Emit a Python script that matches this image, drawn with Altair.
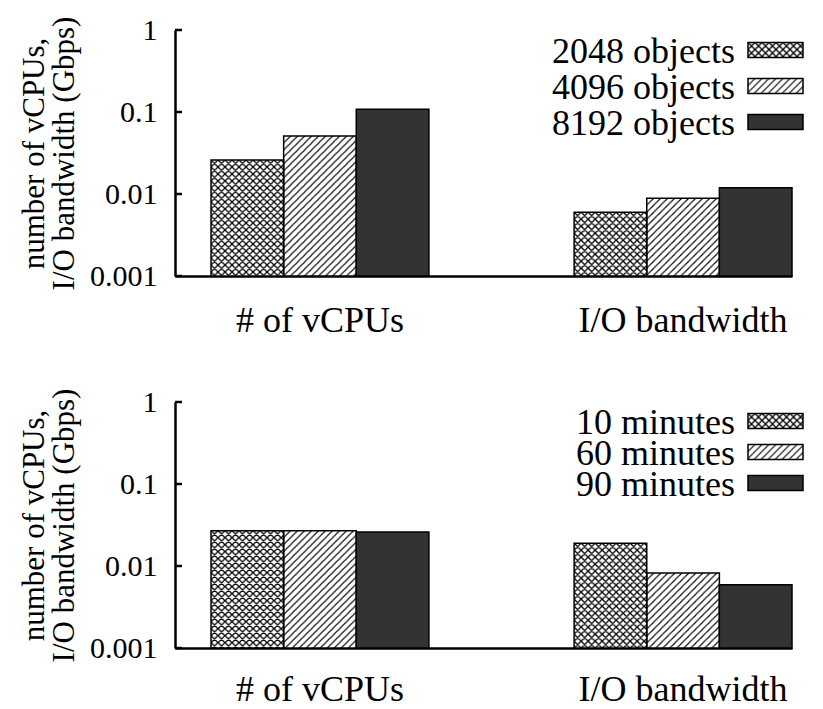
import urllib.parse

import altair as alt
import pandas as pd

# ---- values -------------------------------------------------------------
metrics = ["# of vCPUs", "I/O bandwidth"]

top_series = ["2048 objects", "4096 objects", "8192 objects"]
top_vcpu = [0.026, 0.051, 0.108]
top_io = [0.0060, 0.0089, 0.0119]

bottom_series = ["10 minutes", "60 minutes", "90 minutes"]
bottom_vcpu = [0.027, 0.027, 0.026]
bottom_io = [0.019, 0.0082, 0.0059]

y_ticks = [0.001, 0.01, 0.1, 1]
y_title = ["number of vCPUs,", "I/O bandwidth (Gbps)"]

# ---- styling ------------------------------------------------------------
FONT = "Liberation Serif"
DARK = "#333333"
CLEAR = "rgba(0,0,0,0)"
W, H = 617, 246


def pattern_url(path, lw):
    """A tiling hatch pattern as an SVG data URL that fills any box 1:1."""
    svg = (
        "<svg xmlns='http://www.w3.org/2000/svg' width='100%' height='100%'>"
        "<defs><pattern id='p' width='7' height='7' patternUnits='userSpaceOnUse'>"
        "<rect width='7' height='7' fill='white'/>"
        f"<path d='{path}' stroke='black' stroke-width='{lw}' fill='none'/>"
        "</pattern></defs>"
        "<rect width='100%' height='100%' fill='url(#p)'/></svg>"
    )
    return "data:image/svg+xml;charset=utf-8," + urllib.parse.quote(svg)


SLASH = "M0,7L7,0M-1,1L1,-1M6,8L8,6"
BACKSLASH = "M0,0L7,7M-1,6L1,8M6,-1L8,1"
FILL_URL = {0: pattern_url(SLASH + BACKSLASH, 1.3), 1: pattern_url(SLASH, 1.1), 2: ""}

# one band slot per bar, with two empty slots separating the groups
SLOTS = [f"{metrics[0]}|{k}" for k in range(3)] + ["|gap a", "|gap b"] + [
    f"{metrics[1]}|{k}" for k in range(3)
]

y_axis = alt.Axis(
    values=y_ticks, format="~g", ticks=False, labelPadding=18,
    labelFontSize=30, labelFont=FONT, labelColor="black",
    labelFlush=False, labelOverlap=False,
    title=y_title, titleFont=FONT, titleFontSize=31,
    titleFontWeight="normal", titleColor="black", titlePadding=9,
    titleLineHeight=30, domainColor="black", domainWidth=2.5, grid=False,
)
y_scale = alt.Scale(type="log", domain=[0.001, 1])


def x_axis(label_pad):
    return alt.Axis(
        title=None, labelAngle=0, ticks=False, labelPadding=label_pad,
        labelExpr="split(datum.value, '|')[1] == '1' ? split(datum.value, '|')[0] : ''",
        labelFontSize=36, labelFont=FONT, labelColor="black", labelLimit=500,
        labelOverlap=False, labelBound=False,
        domainColor="black", domainWidth=2.5, grid=False,
    )


def panel(series, vcpu, io, leg_y0, leg_dy, label_pad):
    recs = []
    for k, s in enumerate(series):
        recs.append({"metric": metrics[0], "series": s, "value": vcpu[k], "k": k})
        recs.append({"metric": metrics[1], "series": s, "value": io[k], "k": k})
    df = pd.DataFrame(recs)
    df["slot"] = df["metric"] + "|" + df["k"].astype(str)
    df["url"] = df["k"].map(FILL_URL)

    base = alt.Chart(df).encode(
        x=alt.X("slot:N",
                scale=alt.Scale(domain=SLOTS, paddingInner=0,
                                paddingOuter=0.248, align=1),
                axis=x_axis(label_pad)),
        y=alt.Y("value:Q", scale=y_scale, axis=y_axis),
        y2=alt.datum(0.001),
    )

    hatch = base.mark_image(aspect=False).encode(url="url:N").transform_filter(
        "datum.k < 2"
    )
    bars = base.mark_bar(stroke="black", strokeWidth=1.5).encode(
        fill=alt.Fill("series:N",
                      scale=alt.Scale(domain=series, range=[CLEAR, CLEAR, DARK]),
                      legend=None)
    )

    # inward-pointing ticks on the value axis
    ticks = alt.Chart(pd.DataFrame({"v": y_ticks})).mark_rule(
        color="black", strokeWidth=2.5
    ).encode(
        y=alt.Y("v:Q", scale=y_scale, axis=y_axis),
        x=alt.value(0),
        x2=alt.value(7),
    )

    # key in the upper right: label, then swatch
    leg = pd.DataFrame({"series": series, "k": [0, 1, 2]})
    leg["url"] = leg["k"].map(FILL_URL)
    key_layers = []
    for k in range(3):
        cy = leg_y0 + k * leg_dy
        row = alt.Chart(leg).transform_filter(f"datum.k == {k}")
        key_layers.append(
            row.mark_text(align="right", baseline="middle", font=FONT,
                          fontSize=36, color="black", dy=2).encode(
                x=alt.value(560), y=alt.value(cy), text="series:N")
        )
        if k < 2:
            key_layers.append(
                row.mark_image(aspect=False, width=55, height=15,
                               align="left", baseline="middle").encode(
                    x=alt.value(573), y=alt.value(cy), url="url:N")
            )
        key_layers.append(
            row.mark_rect(stroke="black", strokeWidth=1.5,
                          fill=DARK if k == 2 else CLEAR).encode(
                x=alt.value(573), x2=alt.value(628),
                y=alt.value(cy - 7.5), y2=alt.value(cy + 7.5))
        )

    return alt.layer(hatch, bars, ticks, *key_layers).properties(
        width=W, height=H
    )


top = panel(top_series, top_vcpu, top_io, 20, 36, 27)
bottom = panel(bottom_series, bottom_vcpu, bottom_io, 19, 31, 24)

chart = (
    alt.vconcat(top, bottom, spacing=49)
    .properties(padding={"left": 18, "top": 15, "right": 0, "bottom": 0},
                background="white")
    .configure_view(stroke=None)
)

chart.save("out.html", embed_options={"renderer": "svg", "actions": False})
